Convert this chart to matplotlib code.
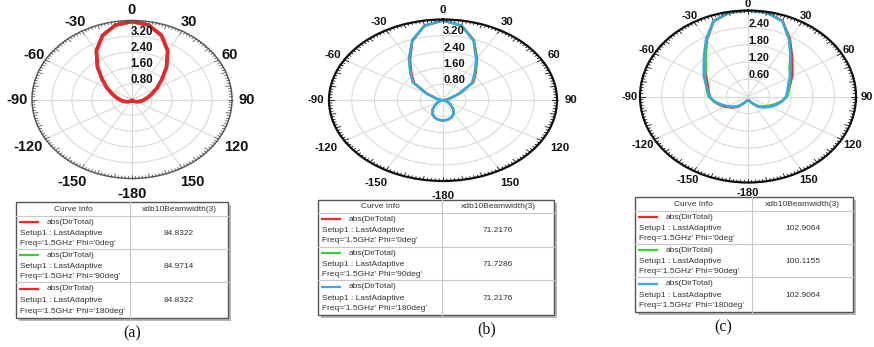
import numpy as np
import matplotlib.pyplot as plt
from matplotlib.patches import Rectangle

W, H = 874, 347

# pattern cut angles (deg), theta from -180 to 180
theta_deg = np.arange(-180, 181, 10)

# (a) directivity |D| cuts
a_phi0 = [0.05, 0.05, 0.07, 0.09, 0.12, 0.16, 0.22, 0.30, 0.40, 0.50, 0.64, 0.84, 1.14, 1.54, 2.14, 2.84, 3.44, 3.82,
          3.95,
          3.83, 3.46, 2.86, 2.16, 1.56, 1.16, 0.86, 0.66, 0.51, 0.40, 0.30, 0.22, 0.16, 0.12, 0.09, 0.07, 0.05, 0.05]
a_phi90 = [0.05, 0.05, 0.07, 0.09, 0.12, 0.16, 0.22, 0.30, 0.40, 0.50, 0.65, 0.85, 1.15, 1.55, 2.15, 2.86, 3.45, 3.82,
           3.94,
           3.82, 3.45, 2.86, 2.15, 1.55, 1.15, 0.85, 0.65, 0.50, 0.40, 0.30, 0.22, 0.16, 0.12, 0.09, 0.07, 0.05, 0.05]

# (b)
b_phi0 = [1.00, 0.98, 0.90, 0.75, 0.55, 0.34, 0.22, 0.12, 0.05, 0.03, 0.10, 0.25, 0.63, 1.32, 1.72, 2.32, 3.13, 3.74,
          3.95,
          3.76, 3.17, 2.39, 1.79, 1.39, 0.68, 0.26, 0.10, 0.03, 0.05, 0.12, 0.22, 0.34, 0.55, 0.75, 0.90, 0.98, 1.00]
b_phi90 = [1.00, 0.98, 0.90, 0.76, 0.56, 0.35, 0.22, 0.12, 0.05, 0.03, 0.10, 0.26, 0.66, 1.37, 1.78, 2.38, 3.16, 3.75,
           3.95,
           3.75, 3.15, 2.36, 1.76, 1.36, 0.66, 0.26, 0.10, 0.03, 0.05, 0.12, 0.22, 0.34, 0.55, 0.75, 0.90, 0.98, 1.00]

# (c)
c_phi0 = [0.14, 0.15, 0.20, 0.31, 0.48, 0.60, 0.72, 0.85, 0.97, 1.06, 1.11, 1.19, 1.34, 1.54, 1.84, 2.28, 2.79, 2.97,
          3.00,
          2.98, 2.81, 2.33, 1.90, 1.61, 1.42, 1.25, 1.13, 1.07, 0.95, 0.80, 0.67, 0.55, 0.45, 0.30, 0.20, 0.15, 0.14]
c_phi90 = [0.14, 0.15, 0.20, 0.30, 0.45, 0.56, 0.68, 0.82, 0.97, 1.10, 1.16, 1.24, 1.38, 1.52, 1.83, 2.30, 2.80, 2.97,
           3.00,
           2.97, 2.80, 2.30, 1.83, 1.50, 1.36, 1.23, 1.15, 1.09, 0.96, 0.81, 0.66, 0.54, 0.44, 0.30, 0.20, 0.15, 0.14]

# phi=180 cut is the phi=0 cut seen from the other side
a_phi180 = a_phi0[::-1]
b_phi180 = b_phi0[::-1]
c_phi180 = c_phi0[::-1]

angle_ticks = [0, 30, 60, 90, 120, 150, 180, -150, -120, -90, -60, -30]
angle_labels = ["0", "30", "60", "90", "120", "150", "-180", "-150", "-120", "-90", "-60", "-30"]

rings_ab = [0.8, 1.6, 2.4, 3.2]
ring_labels_ab = ["0.80", "1.60", "2.40", "3.20"]
rings_c = [0.6, 1.2, 1.8, 2.4]
ring_labels_c = ["0.60", "1.20", "1.80", "2.40"]

phi_names = ["0deg", "90deg", "180deg"]
beam_a = ["84.8322", "84.9714", "84.8322"]
beam_b = ["71.2176", "71.7286", "71.2176"]
beam_c = ["102.9064", "100.1155", "102.9064"]

RED = "#f02a2a"
GREEN = "#3ccc3c"
BLUE = "#3aa8e4"

plt.rcParams['font.family'] = ['Liberation Sans', 'DejaVu Sans']

fig = plt.figure(figsize=(W / 100, H / 100), dpi=100)

# pixel canvas for the tables and captions
canvas = fig.add_axes([0, 0, 1, 1])
canvas.set_xlim(0, W)
canvas.set_ylim(H, 0)
canvas.axis('off')


def polar_panel(box, rmax, rings, ring_labels, curves, lw, fs_theta, fs_r,
                facs, rim_color, rim_lw, r_off):
    x0, y0, x1, y1 = box
    ax = fig.add_axes([x0 / W, 1 - y1 / H, (x1 - x0) / W, (y1 - y0) / H], projection='polar')
    ax.set_aspect('auto')
    ax.set_theta_zero_location('N')
    ax.set_theta_direction(-1)
    ax.set_ylim(0, rmax)
    ax.set_yticks(rings)
    ax.set_yticklabels([])
    ax.set_xticks(np.deg2rad(np.arange(0, 360, 30)))
    ax.set_xticklabels([])
    ax.tick_params(length=0)
    ax.grid(True, color='#dadada', lw=0.8)
    ax.set_axisbelow(True)
    ax.spines['polar'].set_color(rim_color)
    ax.spines['polar'].set_linewidth(rim_lw)
    ax.patch.set_alpha(0)

    for vals, color in curves:
        ax.plot(np.deg2rad(theta_deg), vals, color=color, lw=lw, solid_joinstyle='round')

    # small ticks around the rim
    for d in range(0, 360, 2):
        r0 = rmax * (0.955 if d % 10 == 0 else 0.975)
        ax.plot([np.deg2rad(d)] * 2, [r0, rmax * 1.005], color=rim_color, lw=0.6, clip_on=False)

    ftop, fside, fbot = facs
    for d, lab in zip(angle_ticks, angle_labels):
        if abs(d) < 90:
            f = ftop
        elif abs(d) == 90:
            f = fside
        else:
            f = fbot
        ax.text(np.deg2rad(d), rmax * f, lab, ha='center', va='center',
                fontsize=fs_theta, fontweight='bold', color='#111')

    for r, lab in zip(rings, ring_labels):
        ax.annotate(lab, xy=(0, r), xytext=r_off, textcoords='offset points',
                    ha='center', va='center', fontsize=fs_r, fontweight='bold', color='#111')
    return ax


def draw_table(x0, y0, x1, y1, xs, yh, seps, colors, values, fs=6.0):
    canvas.add_patch(Rectangle((x0 + 3, y0 + 3), x1 - x0, y1 - y0, color='#b8b8b8', lw=0, zorder=1))
    canvas.add_patch(Rectangle((x0, y0), x1 - x0, y1 - y0, facecolor='white', edgecolor='#555', lw=1.0, zorder=2))
    canvas.plot([xs, xs], [y0, y1], color='#c8c8c8', lw=0.8, zorder=3)
    canvas.plot([x0, x1], [yh, yh], color='#c8c8c8', lw=0.8, zorder=3)
    for s in seps:
        canvas.plot([x0, x1], [s, s], color='#c8c8c8', lw=0.8, zorder=3)
    canvas.text((x0 + xs) / 2, (y0 + yh) / 2, "Curve Info", ha='center', va='center', fontsize=fs, color='#333', zorder=4)
    canvas.text((xs + x1) / 2, (y0 + yh) / 2, "xdb10Beamwidth(3)", ha='center', va='center', fontsize=fs, color='#333', zorder=4)
    bounds = [yh] + list(seps) + [y1]
    for i in range(3):
        top, bot = bounds[i], bounds[i + 1]
        h = bot - top
        l1, l2, l3 = top + 0.19 * h, top + 0.52 * h, top + 0.82 * h
        canvas.plot([x0 + 4, x0 + 22], [l1, l1], color=colors[i], lw=1.6, zorder=4)
        canvas.text(x0 + 31, l1, "abs(DirTotal)", ha='left', va='center', fontsize=fs, color='#333', zorder=4)
        canvas.text(x0 + 4, l2, "Setup1 : LastAdaptive", ha='left', va='center', fontsize=fs, color='#333', zorder=4)
        canvas.text(x0 + 4, l3, "Freq='1.5GHz' Phi='%s'" % phi_names[i], ha='left', va='center', fontsize=fs, color='#333', zorder=4)
        canvas.text((xs + x1) / 2, l2, values[i], ha='center', va='center', fontsize=fs, color='#333', zorder=4)


# (a)
polar_panel((32, 20.5, 232, 178.5), 4.0, rings_ab, ring_labels_ab,
            [(a_phi90, GREEN), (a_phi0, "#e8282c"), (a_phi180, "#e8282c")],
            lw=2.4, fs_theta=10.5, fs_r=8.3, facs=(1.13, 1.15, 1.2),
            rim_color='#555', rim_lw=1.0, r_off=(7.2, 3.0))
draw_table(16, 202, 228, 318, 130, 216, [249, 282], [RED, GREEN, RED], beam_a)
canvas.text(132, 333, "(a)", ha='center', va='center', fontsize=11.5, family='Liberation Serif', color='#111')

# (b)
polar_panel((329, 19.5, 557, 181), 4.0, rings_ab, ring_labels_ab,
            [(b_phi0, RED), (b_phi90, GREEN), (b_phi180, BLUE)],
            lw=1.7, fs_theta=8.2, fs_r=8.0, facs=(1.12, 1.12, 1.18),
            rim_color='#111', rim_lw=1.6, r_off=(8.0, 3.0))
draw_table(318, 200, 554, 315, 442, 213, [247, 280], [RED, GREEN, BLUE], beam_b)
canvas.text(487, 329, "(b)", ha='center', va='center', fontsize=11.5, family='Liberation Serif', color='#111')

# (c)
polar_panel((640, 10.5, 856, 182.5), 3.0, rings_c, ring_labels_c,
            [(c_phi0, RED), (c_phi90, GREEN), (c_phi180, BLUE)],
            lw=1.7, fs_theta=8.0, fs_r=7.8, facs=(1.08, 1.1, 1.12),
            rim_color='#111', rim_lw=1.6, r_off=(8.0, 3.0))
draw_table(635, 197, 853, 312, 752, 211, [244, 277], [RED, GREEN, BLUE], beam_c)
canvas.text(723, 327, "(c)", ha='center', va='center', fontsize=11.5, family='Liberation Serif', color='#111')

fig.savefig("out.png", dpi=100)
